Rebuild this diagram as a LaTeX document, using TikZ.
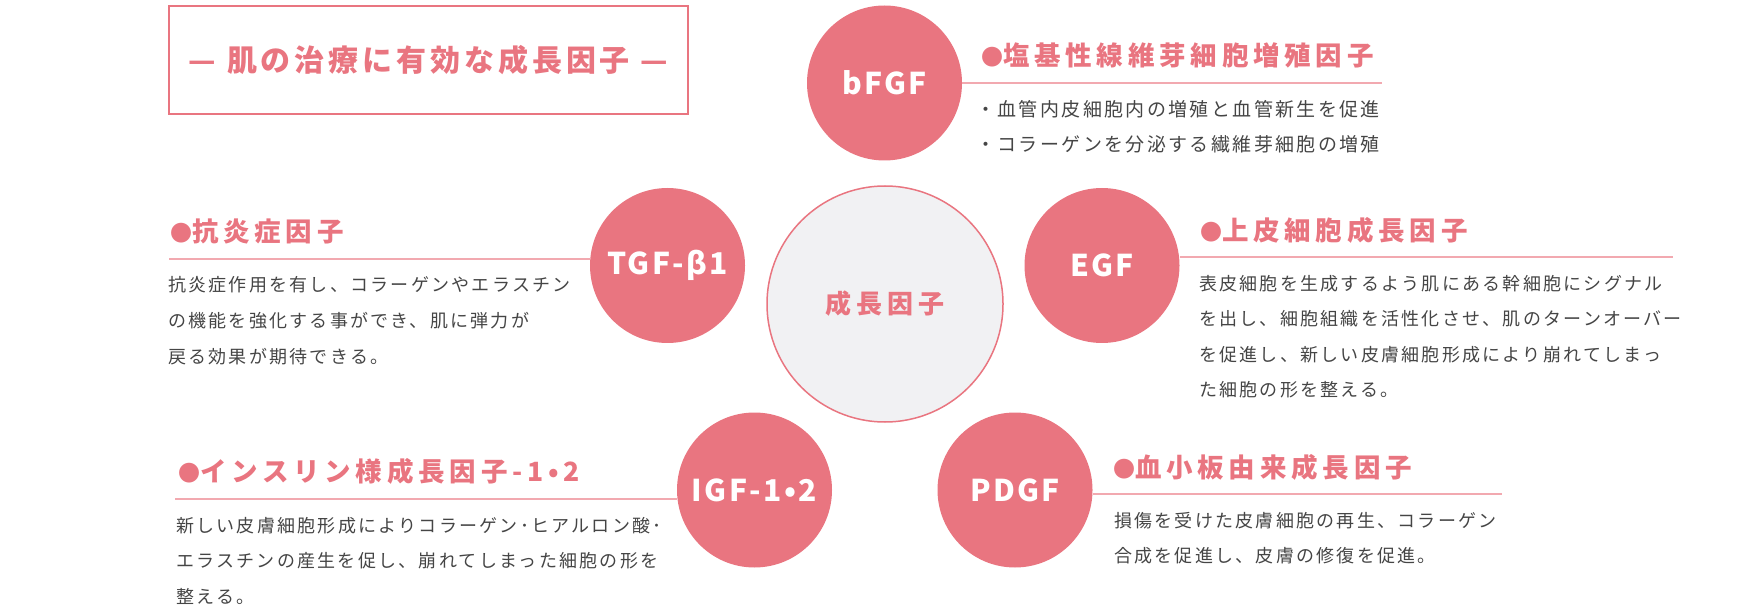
\documentclass[tikz,border=0pt]{standalone}
\usepackage{fontspec}
\setmainfont{Noto Sans CJK JP}
\newfontfamily\titlefont[LetterSpace=13]{Noto Sans CJK JP}
\newfontfamily\headfont[LetterSpace=18]{Noto Sans CJK JP}
\newfontfamily\bodyfont[LetterSpace=12.5]{Noto Sans CJK JP}
\newfontfamily\factorfont[LetterSpace=8]{Noto Sans CJK JP}
\newcommand\dotmark{{\fontsize{22}{22}\selectfont ●}}
\definecolor{rose}{HTML}{E97580}
\definecolor{roseline}{HTML}{F2A9B0}
\definecolor{mist}{HTML}{F1F1F3}
\definecolor{ink}{HTML}{454545}
\begin{document}
\begin{tikzpicture}[x=1pt,y=-1pt,
  factor/.style={circle,fill=rose,minimum size=155pt,inner sep=0pt,text=white,
    font=\factorfont\bfseries\fontsize{30}{30}\selectfont},
  heading/.style={anchor=west,inner sep=0pt,text=rose,
    font=\headfont\bfseries\fontsize{26.5}{26.5}\selectfont},
  body/.style={anchor=base west,align=left,inner sep=0pt,text=ink,
    font=\bodyfont\fontsize{18}{35.5}\selectfont},
  headrule/.style={roseline,line width=1.2pt}]
  \useasboundingbox (0,0) rectangle (1740,609);

  \node[draw=rose,line width=2pt,minimum width=519pt,minimum height=108pt,text=rose,
    font=\titlefont\bfseries\fontsize{30}{30}\selectfont] (title) at (428.5,60)
    {— 肌の治療に有効な成長因子 —};

  \node[circle,fill=mist,draw=rose,line width=1.5pt,minimum size=236pt,text=rose,
    font=\headfont\bfseries\fontsize{26}{26}\selectfont] (core) at (885,304) {成長因子};

  \foreach \id/\x/\y/\lab in {bfgf/884.5/83/bFGF, tgf/667.5/265.5/TGF-β1,
      egf/1102/265.5/EGF, igf/754.5/490/IGF-1•2, pdgf/1015/490/PDGF}
    \node[factor] (\id) at (\x,\y) {\lab};

  \coordinate (bfgfend) at (1382,83);
  \coordinate (tgfend) at (169,259);
  \coordinate (egfend) at (1673,257);
  \coordinate (igfend) at (175,499);
  \coordinate (pdgfend) at (1502,494);

  \draw[headrule] (bfgf.east) -- (bfgfend);
  \draw[headrule] (tgfend) -- (tgfend -| tgf.west);
  \draw[headrule] (egfend -| egf.east) -- (egfend);
  \draw[headrule] (igfend) -- (igfend -| igf.west);
  \draw[headrule] (pdgfend -| pdgf.east) -- (pdgfend);

  \node[heading] (bfgfhead) at (981,55) {\dotmark 塩基性線維芽細胞増殖因子};
  \node[heading] (tgfhead) at (170,231) {\dotmark 抗炎症因子};
  \node[heading] (egfhead) at (1200,230) {\dotmark 上皮細胞成長因子};
  \node[heading] (igfhead) at (178,471) {\dotmark インスリン様成長因子-1•2};
  \node[heading] (pdgfhead) at (1113,467) {\dotmark 血小板由来成長因子};

  \node[body,font=\bodyfont\fontsize{19}{35}\selectfont] (bfgftext) at (976,152)
    {・血管内皮細胞内の増殖と血管新生を促進\\・コラーゲンを分泌する繊維芽細胞の増殖};
  \node[body] (tgftext) at (168,363)
    {抗炎症作用を有し、コラーゲンやエラスチン\\の機能を強化する事ができ、肌に弾力が\\戻る効果が期待できる。};
  \node[body] (egftext) at (1199,396.5)
    {表皮細胞を生成するよう肌にある幹細胞にシグナル\\を出し、細胞組織を活性化させ、肌のターンオーバー\\を促進し、新しい皮膚細胞形成により崩れてしまっ\\た細胞の形を整える。};
  \node[body] (igftext) at (176,603)
    {新しい皮膚細胞形成によりコラーゲン･ヒアルロン酸･\\エラスチンの産生を促し、崩れてしまった細胞の形を\\整える。};
  \node[body] (pdgftext) at (1114,562.5)
    {損傷を受けた皮膚細胞の再生、コラーゲン\\合成を促進し、皮膚の修復を促進。};
\end{tikzpicture}
\end{document}
